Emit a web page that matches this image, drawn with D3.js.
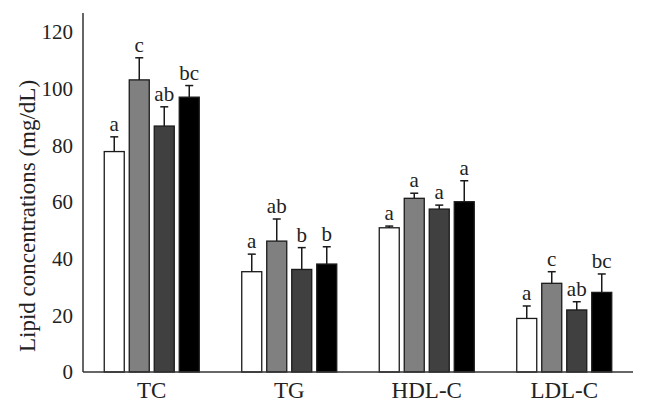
<!DOCTYPE html>
<html>
<head>
<meta charset="utf-8">
<script src="https://cdn.jsdelivr.net/npm/d3@7"></script>
<style>
  html, body { margin: 0; padding: 0; background: #fff; }
  svg { display: block; }
  text { font-family: "Liberation Serif", "DejaVu Serif", serif; fill: #222; }
</style>
</head>
<body>
<script>
const categories = ["TC", "TG", "HDL-C", "LDL-C"];
const seriesNames = ["Group 1", "Group 2", "Group 3", "Group 4"];
const seriesColors = ["#ffffff", "#808080", "#404040", "#000000"];
const means1 = [77.8, 35.4, 50.9, 18.9];
const means2 = [103.1, 46.2, 61.3, 31.3];
const means3 = [86.8, 36.2, 57.5, 21.9];
const means4 = [97.0, 38.1, 60.1, 28.1];
const err1 = [5.2, 6.2, 0.6, 4.4];
const err2 = [7.8, 7.8, 1.8, 4.1];
const err3 = [6.8, 7.7, 1.4, 2.9];
const err4 = [4.1, 6.1, 7.4, 6.5];
const letters1 = ["a", "a", "a", "a"];
const letters2 = ["c", "ab", "a", "c"];
const letters3 = ["ab", "b", "a", "ab"];
const letters4 = ["bc", "b", "a", "bc"];
const yTicks = [0, 20, 40, 60, 80, 100, 120];
const yLabel = "Lipid concentrations (mg/dL)";

const means = [means1, means2, means3, means4];
const errs = [err1, err2, err3, err4];
const letters = [letters1, letters2, letters3, letters4];

const W = 648, H = 412;
const svg = d3.select("body").append("svg").attr("width", W).attr("height", H);

const x0 = d3.scaleBand().domain(categories).range([83, 633]).padding(0);
const x1 = d3.scaleBand().domain(seriesNames).range([-47.5, 47.5]).paddingInner(0.2).paddingOuter(0);
const y = d3.scaleLinear().domain([0, 120]).range([372, 32]);

const data = [];
categories.forEach((c, ci) => {
  seriesNames.forEach((s, si) => {
    data.push({ cat: c, ser: s, si, v: means[si][ci], e: errs[si][ci], l: letters[si][ci] });
  });
});

// bars
svg.append("g").selectAll("rect").data(data).join("rect")
  .attr("x", d => x0(d.cat) + x0.bandwidth() / 2 + x1(d.ser))
  .attr("y", d => y(d.v))
  .attr("width", x1.bandwidth())
  .attr("height", d => y(0) - y(d.v))
  .attr("fill", d => seriesColors[d.si])
  .attr("stroke", "#1a1a1a")
  .attr("stroke-width", 1.3);

// error bars
const eg = svg.append("g").attr("stroke", "#1a1a1a").attr("stroke-width", 1.5);
data.forEach(d => {
  const cx = x0(d.cat) + x0.bandwidth() / 2 + x1(d.ser) + x1.bandwidth() / 2;
  eg.append("line").attr("x1", cx).attr("x2", cx).attr("y1", y(d.v)).attr("y2", y(d.v + d.e));
  eg.append("line").attr("x1", cx - 4).attr("x2", cx + 4).attr("y1", y(d.v + d.e)).attr("y2", y(d.v + d.e));
});

// letters
svg.append("g").selectAll("text").data(data).join("text")
  .attr("x", d => x0(d.cat) + x0.bandwidth() / 2 + x1(d.ser) + x1.bandwidth() / 2)
  .attr("y", d => y(d.v + d.e) - 6)
  .attr("text-anchor", "middle")
  .attr("font-size", 21)
  .text(d => d.l);

// y axis
const yAxis = d3.axisLeft(y).tickValues(yTicks).tickSize(0).tickPadding(10);
const ya = svg.append("g").attr("transform", "translate(83,0)").call(yAxis);
ya.select(".domain").remove();
ya.selectAll("text").attr("font-size", 21).attr("font-family", "Liberation Serif, serif").attr("fill", "#222");
svg.append("line").attr("x1", 83).attr("x2", 83).attr("y1", y(126.7)).attr("y2", y(0))
  .attr("stroke", "#333").attr("stroke-width", 1.5);

// x axis
const xAxis = d3.axisBottom(x0).tickSize(0).tickPadding(10);
const xa = svg.append("g").attr("transform", `translate(0,${y(0)})`).call(xAxis);
xa.select(".domain").remove();
xa.selectAll("text").attr("font-size", 23).attr("font-family", "Liberation Serif, serif").attr("fill", "#222")
  .attr("dy", "0.71em");
svg.append("line").attr("x1", 83).attr("x2", 633).attr("y1", y(0)).attr("y2", y(0))
  .attr("stroke", "#333").attr("stroke-width", 1.5);

// y label
svg.append("text")
  .attr("transform", `translate(35,216) rotate(-90)`)
  .attr("text-anchor", "middle")
  .attr("font-size", 23)
  .text(yLabel);
</script>
</body>
</html>
